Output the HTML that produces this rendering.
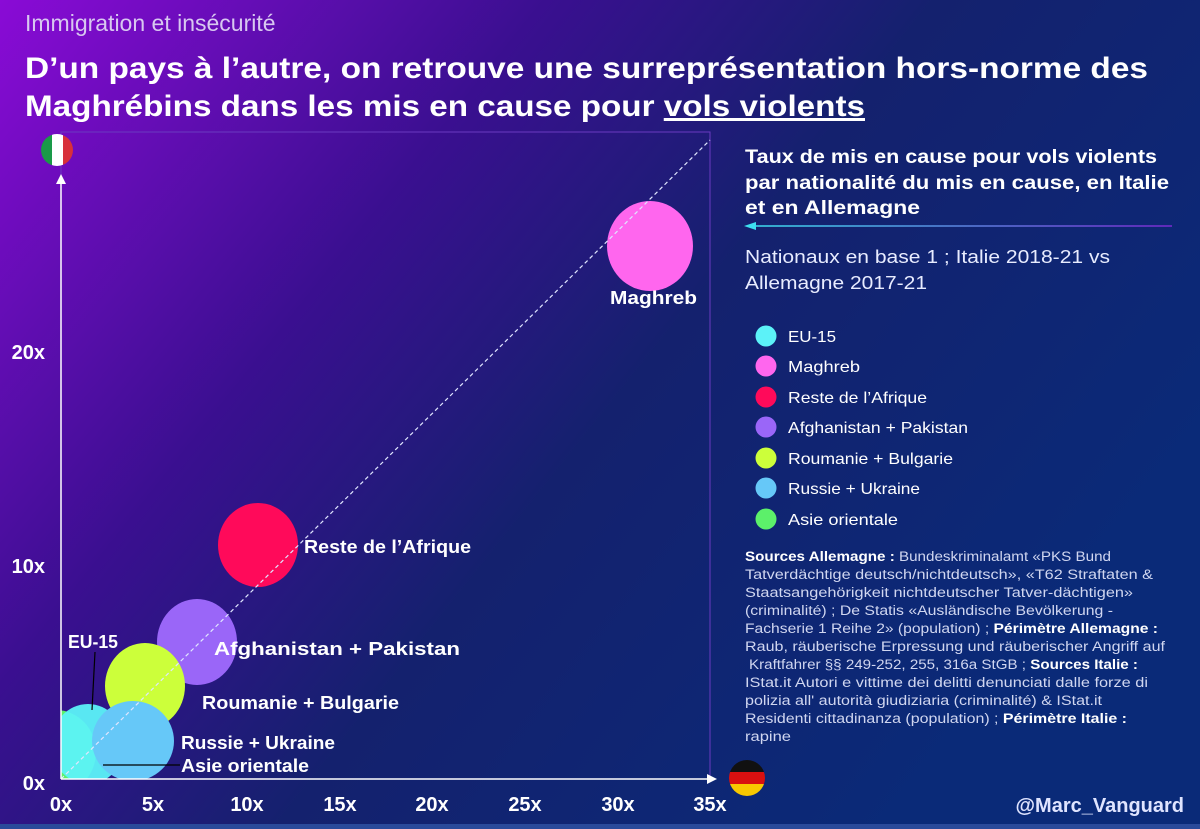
<!DOCTYPE html>
<html><head><meta charset="utf-8"><style>
html,body{margin:0;padding:0;width:1200px;height:829px;overflow:hidden;}
svg{display:block;font-family:"Liberation Sans",sans-serif;}
</style></head><body>
<svg width="1200" height="829" viewBox="0 0 1200 829" xmlns="http://www.w3.org/2000/svg">
<defs>
<linearGradient id="bg" x1="0" y1="0" x2="1" y2="0.55">
<stop offset="0" stop-color="#8a0bd6"/>
<stop offset="0.35" stop-color="#3a0f90"/>
<stop offset="0.6" stop-color="#14216e"/>
<stop offset="1" stop-color="#0a2a78"/>
</linearGradient>
<linearGradient id="ln" gradientUnits="userSpaceOnUse" x1="750" y1="0" x2="1172" y2="0"><stop offset="0" stop-color="#3de0f0"/><stop offset="1" stop-color="#7a2ad0"/></linearGradient>
<clipPath id="pc"><rect x="61" y="130" width="650" height="649"/></clipPath>
<clipPath id="fi"><circle cx="57" cy="150" r="16"/></clipPath>
<clipPath id="fd"><circle cx="747" cy="778" r="18"/></clipPath>
</defs>
<rect width="1200" height="829" fill="url(#bg)"/>
<rect x="0" y="824" width="1200" height="5" fill="#2a4a9a"/>
<text x="25" y="31" font-size="23" fill="#d8c8f0">Immigration et insécurité</text>
<text x="25" y="78" font-size="30" font-weight="bold" fill="#fff" textLength="1123" lengthAdjust="spacingAndGlyphs">D’un pays à l’autre, on retrouve une surreprésentation hors-norme des</text>
<text x="25" y="116" font-size="30" font-weight="bold" fill="#fff" textLength="840" lengthAdjust="spacingAndGlyphs">Maghrébins dans les mis en cause pour <tspan text-decoration="underline">vols violents</tspan></text>
<rect x="61" y="132" width="649" height="647" fill="none" stroke="#6a3ac0" stroke-width="1"/>
<g clip-path="url(#pc)">
<ellipse cx="56" cy="752" rx="40" ry="42" fill="#5cf06a"/>
<ellipse cx="88" cy="744" rx="37" ry="40" fill="#5cf2f8" opacity="0.95"/>
<ellipse cx="197" cy="642" rx="40" ry="43" fill="#9a66f8"/>
<ellipse cx="145" cy="686" rx="40" ry="43" fill="#ccff3a"/>
<ellipse cx="133" cy="741" rx="41" ry="40" fill="#66c8f8"/>
<ellipse cx="258" cy="545" rx="40" ry="42" fill="#ff0a5a"/>
<ellipse cx="650" cy="246" rx="43" ry="45" fill="#ff66ee"/>
</g>
<line x1="61" y1="779" x2="710" y2="140" stroke="#e0e6ff" stroke-width="1.2" stroke-dasharray="4,3"/>
<line x1="61" y1="779" x2="710" y2="779" stroke="#fff" stroke-width="1.5"/>
<polygon points="717,779 707,774 707,784" fill="#fff"/>
<line x1="61" y1="779" x2="61" y2="182" stroke="#fff" stroke-width="1.5"/>
<polygon points="61,174 56,184 66,184" fill="#fff"/>
<g clip-path="url(#fi)"><rect x="41" y="134" width="11" height="32" fill="#1a9a48"/><rect x="52" y="134" width="11" height="32" fill="#fff"/><rect x="63" y="134" width="11" height="32" fill="#d8303a"/></g>
<g clip-path="url(#fd)"><rect x="729" y="760" width="36" height="12" fill="#111"/><rect x="729" y="772" width="36" height="12" fill="#d81010"/><rect x="729" y="784" width="36" height="12" fill="#f8c800"/></g>
<g font-size="20" font-weight="bold" fill="#fff" text-anchor="middle">
<text x="61" y="811">0x</text><text x="153" y="811">5x</text><text x="247" y="811">10x</text><text x="340" y="811">15x</text><text x="432" y="811">20x</text><text x="525" y="811">25x</text><text x="618" y="811">30x</text><text x="710" y="811">35x</text>
</g>
<g font-size="20" font-weight="bold" fill="#fff" text-anchor="end">
<text x="45" y="790">0x</text><text x="45" y="573">10x</text><text x="45" y="359">20x</text>
</g>
<g font-size="18" font-weight="bold" fill="#fff">
<text x="610" y="304" textLength="87" lengthAdjust="spacingAndGlyphs">Maghreb</text>
<text x="304" y="553" textLength="167" lengthAdjust="spacingAndGlyphs">Reste de l’Afrique</text>
<text x="214" y="655" textLength="246" lengthAdjust="spacingAndGlyphs">Afghanistan + Pakistan</text>
<text x="202" y="709" textLength="197" lengthAdjust="spacingAndGlyphs">Roumanie + Bulgarie</text>
<text x="181" y="749" textLength="154" lengthAdjust="spacingAndGlyphs">Russie + Ukraine</text>
<text x="181" y="772" textLength="128" lengthAdjust="spacingAndGlyphs">Asie orientale</text>
<text x="68" y="648" textLength="50" lengthAdjust="spacingAndGlyphs">EU-15</text>
</g>
<line x1="95" y1="652" x2="92" y2="710" stroke="#000" stroke-width="1.2"/>
<line x1="103" y1="765" x2="180" y2="765" stroke="#000" stroke-width="1.2"/>
<g font-size="19" font-weight="bold" fill="#fff">
<text x="745" y="163" textLength="412" lengthAdjust="spacingAndGlyphs">Taux de mis en cause pour vols violents</text>
<text x="745" y="189" textLength="424" lengthAdjust="spacingAndGlyphs">par nationalité du mis en cause, en Italie</text>
<text x="745" y="214" textLength="175" lengthAdjust="spacingAndGlyphs">et en Allemagne</text>
</g>
<line x1="752" y1="226" x2="1172" y2="226" stroke="url(#ln)" stroke-width="1.5"/>
<polygon points="744,226 756,222 756,230" fill="#3de0f0"/>
<g font-size="18" fill="#e8ecff">
<text x="745" y="263" textLength="365" lengthAdjust="spacingAndGlyphs">Nationaux en base 1 ; Italie 2018-21 vs</text>
<text x="745" y="289" textLength="182" lengthAdjust="spacingAndGlyphs">Allemagne 2017-21</text>
</g>
<g font-size="16" fill="#fff">
<circle cx="766" cy="336" r="10.5" fill="#5cf2f8"/><text x="788" y="342" textLength="48" lengthAdjust="spacingAndGlyphs">EU-15</text>
<circle cx="766" cy="366" r="10.5" fill="#ff66ee"/><text x="788" y="372" textLength="72" lengthAdjust="spacingAndGlyphs">Maghreb</text>
<circle cx="766" cy="397" r="10.5" fill="#ff0a5a"/><text x="788" y="403" textLength="139" lengthAdjust="spacingAndGlyphs">Reste de l’Afrique</text>
<circle cx="766" cy="427" r="10.5" fill="#9a66f8"/><text x="788" y="433" textLength="180" lengthAdjust="spacingAndGlyphs">Afghanistan + Pakistan</text>
<circle cx="766" cy="458" r="10.5" fill="#ccff3a"/><text x="788" y="464" textLength="165" lengthAdjust="spacingAndGlyphs">Roumanie + Bulgarie</text>
<circle cx="766" cy="488" r="10.5" fill="#66c8f8"/><text x="788" y="494" textLength="132" lengthAdjust="spacingAndGlyphs">Russie + Ukraine</text>
<circle cx="766" cy="519" r="10.5" fill="#5cf06a"/><text x="788" y="525" textLength="110" lengthAdjust="spacingAndGlyphs">Asie orientale</text>
</g>
<g font-size="13.5" fill="#d0d6f0">
<text x="745" y="561" textLength="366" lengthAdjust="spacingAndGlyphs"><tspan font-weight="bold" fill="#fff">Sources Allemagne :</tspan> Bundeskriminalamt «PKS Bund</text>
<text x="745" y="579" textLength="408" lengthAdjust="spacingAndGlyphs">Tatverdächtige deutsch/nichtdeutsch», «T62 Straftaten &amp;</text>
<text x="745" y="597" textLength="388" lengthAdjust="spacingAndGlyphs">Staatsangehörigkeit nichtdeutscher Tatver-dächtigen»</text>
<text x="745" y="615" textLength="368" lengthAdjust="spacingAndGlyphs">(criminalité) ; De Statis «Ausländische Bevölkerung -</text>
<text x="745" y="633" textLength="413" lengthAdjust="spacingAndGlyphs">Fachserie 1 Reihe 2» (population) ; <tspan font-weight="bold" fill="#fff">Périmètre Allemagne :</tspan></text>
<text x="745" y="651" textLength="420" lengthAdjust="spacingAndGlyphs">Raub, räuberische Erpressung und räuberischer Angriff auf</text>
<text x="749" y="669" textLength="389" lengthAdjust="spacingAndGlyphs">Kraftfahrer §§ 249-252, 255, 316a StGB ;  <tspan font-weight="bold" fill="#fff">Sources Italie :</tspan></text>
<text x="745" y="687" textLength="403" lengthAdjust="spacingAndGlyphs">IStat.it Autori e vittime dei delitti denunciati dalle forze di</text>
<text x="745" y="705" textLength="357" lengthAdjust="spacingAndGlyphs">polizia all' autorità giudiziaria (criminalité) &amp; IStat.it</text>
<text x="745" y="723" textLength="382" lengthAdjust="spacingAndGlyphs">Residenti cittadinanza (population) ; <tspan font-weight="bold" fill="#fff">Périmètre Italie :</tspan></text>
<text x="745" y="741" textLength="46" lengthAdjust="spacingAndGlyphs">rapine</text>
</g>
<text x="1184" y="812" font-size="20" font-weight="bold" fill="#dfe4ff" text-anchor="end">@Marc_Vanguard</text>
</svg>
</body></html>
